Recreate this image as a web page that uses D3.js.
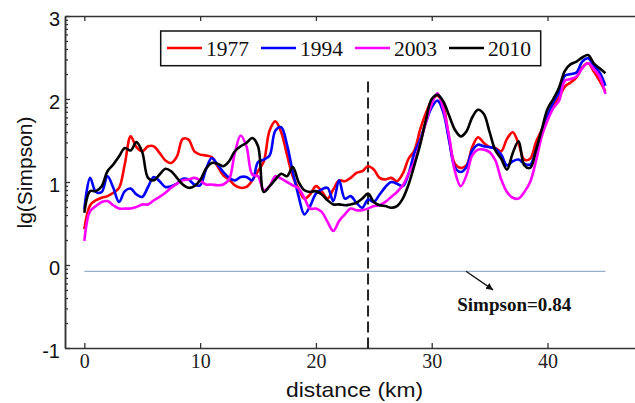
<!DOCTYPE html>
<html>
<head>
<meta charset="utf-8">
<script src="https://cdn.jsdelivr.net/npm/d3@7"></script>
<style>
  body { margin: 0; background: #fff; }
</style>
</head>
<body>
<div></div>
<script>
// distance along the transect (km), one sample every 0.5 km
const distance = [
  0, 0.5, 1, 1.5, 2, 2.5, 3, 3.5, 4, 4.5,
  5, 5.5, 6, 6.5, 7, 7.5, 8, 8.5, 9, 9.5,
  10, 10.5, 11, 11.5, 12, 12.5, 13, 13.5, 14, 14.5,
  15, 15.5, 16, 16.5, 17, 17.5, 18, 18.5, 19, 19.5,
  20, 20.5, 21, 21.5, 22, 22.5, 23, 23.5, 24, 24.5,
  25, 25.5, 26, 26.5, 27, 27.5, 28, 28.5, 29, 29.5,
  30, 30.5, 31, 31.5, 32, 32.5, 33, 33.5, 34, 34.5,
  35, 35.5, 36, 36.5, 37, 37.5, 38, 38.5, 39, 39.5,
  40, 40.5, 41, 41.5, 42, 42.5, 43, 43.5, 44, 44.5,
  45];

// lg(Simpson) per year
const v1977 = [
  0.43, 0.72, 0.78, 0.81, 0.83, 0.87, 0.93, 1.22, 1.55, 1.42,
  1.37, 1.43, 1.43, 1.35, 1.26, 1.23, 1.31, 1.52, 1.51, 1.37,
  1.33, 1.32, 1.30, 1.19, 1.08, 1.03, 0.96, 0.93, 0.94, 1.02,
  1.13, 1.25, 1.62, 1.73, 1.60, 1.33, 1.07, 0.92, 0.80, 0.85,
  0.95, 0.89, 0.80, 0.91, 1.02, 1.01, 1.05, 1.11, 1.13, 1.19,
  1.15, 1.05, 1.03, 1.05, 1.01, 1.10, 1.28, 1.38, 1.63, 1.83,
  1.98, 2.04, 1.92, 1.52, 1.22, 1.17, 1.20, 1.42, 1.54, 1.47,
  1.42, 1.41, 1.37, 1.52, 1.60, 1.46, 1.27, 1.28, 1.48, 1.63,
  1.80, 1.93, 2.02, 2.15, 2.20, 2.26, 2.38, 2.43, 2.33, 2.22,
  2.09];
const v1994 = [
  0.67, 1.05, 0.88, 0.88, 1.07, 0.93, 0.76, 0.89, 0.92, 0.85,
  0.82, 0.94, 1.06, 1.01, 0.94, 0.95, 0.98, 1.04, 1.03, 0.97,
  0.96, 1.15, 1.29, 1.21, 1.12, 1.05, 1.02, 1.06, 1.06, 1.02,
  1.24, 1.27, 1.32, 1.62, 1.66, 1.45, 1.12, 0.83, 0.61, 0.71,
  0.86, 0.91, 0.93, 0.77, 1.02, 0.80, 0.83, 0.75, 0.69, 0.79,
  0.76, 0.85, 0.94, 1.00, 0.98, 0.95, 1.10, 1.35, 1.51, 1.72,
  1.90, 1.98, 1.84, 1.50, 1.18, 1.12, 1.18, 1.38, 1.45, 1.43,
  1.42, 1.40, 1.33, 1.20, 1.25, 1.27, 1.22, 1.21, 1.38, 1.60,
  1.80, 1.96, 2.08, 2.28, 2.30, 2.32, 2.45, 2.49, 2.40, 2.32,
  2.16];
const v2003 = [
  0.29, 0.65, 0.71, 0.76, 0.77, 0.72, 0.68, 0.68, 0.68, 0.70,
  0.73, 0.73, 0.78, 0.82, 0.87, 0.93, 0.98, 1.02, 1.03, 1.05,
  1.02, 0.97, 0.97, 0.96, 0.97, 1.03, 1.35, 1.56, 1.43, 1.09,
  1.07, 0.90, 0.95, 1.07, 1.04, 1.00, 0.96, 0.92, 0.81, 0.68,
  0.68, 0.64, 0.52, 0.41, 0.53, 0.61, 0.68, 0.66, 0.66, 0.68,
  0.71, 0.72, 0.76, 0.82, 0.88, 0.96, 1.10, 1.24, 1.47, 1.72,
  1.94, 2.07, 1.88, 1.55, 1.13, 0.95, 1.08, 1.32, 1.39, 1.39,
  1.36, 1.26, 1.03, 0.88, 0.81, 0.80, 0.88, 1.00, 1.25, 1.55,
  1.74, 1.89, 1.98, 2.22, 2.24, 2.27, 2.37, 2.43, 2.36, 2.27,
  2.06];
const v2010 = [
  0.63, 0.89, 0.89, 0.95, 1.13, 1.21, 1.31, 1.41, 1.38, 1.48,
  1.36, 1.05, 1.02, 1.09, 1.16, 1.13, 1.05, 0.97, 0.93, 0.95,
  1.02, 1.16, 1.23, 1.22, 1.19, 1.25, 1.37, 1.43, 1.47, 1.53,
  1.43, 0.88, 0.95, 1.03, 1.10, 1.07, 1.18, 1.00, 0.90, 0.88,
  0.89, 0.85, 0.78, 0.73, 0.73, 0.72, 0.73, 0.75, 0.80, 0.86,
  0.76, 0.72, 0.71, 0.69, 0.71, 0.80, 0.97, 1.20, 1.45, 1.75,
  2.00, 2.05, 1.97, 1.80, 1.63, 1.55, 1.61, 1.78, 1.87, 1.82,
  1.60, 1.38, 1.28, 1.15, 1.35, 1.49, 1.20, 1.17, 1.38, 1.63,
  1.88, 2.00, 2.14, 2.34, 2.42, 2.45, 2.50, 2.53, 2.43, 2.37,
  2.31];

const years = ["1977", "1994", "2003", "2010"];
const seriesValues = [v1977, v1994, v2003, v2010];
const colors = ["#ff0000", "#0000ff", "#ff00ff", "#000000"];

const xTicks = [0, 10, 20, 30, 40];
const yTicks = [-1, 0, 1, 2, 3];
const simpsonRef = 0.84;   // reference Simpson index
const boundaryKm = 24.5;   // dashed divider

const width = 635, height = 403;
const axisColor = "#333";

const svg = d3.select("body div")
  .append("svg")
  .attr("width", width)
  .attr("height", height)
  .style("background", "#fff");

// scales (plot box runs past the right edge of the picture)
const x = d3.scaleLinear().domain([-1.67, 53.6]).range([65, 705]);
const y = d3.scaleLinear().domain([-1, 3]).range([348, 16]);

// log-style minor ticks on the lg axis
const minorY = [];
yTicks.slice(0, -1).forEach(function (n) {
  for (let k = 2; k <= 9; k++) minorY.push(n + Math.log10(k));
});

function styleAxis(g) {
  g.select(".domain").attr("stroke", axisColor).attr("stroke-width", 1.5);
  g.selectAll(".tick line").attr("stroke", axisColor).attr("stroke-width", 1.3);
}

// top frame line with inward ticks
svg.append("g")
  .attr("transform", `translate(0,${y(3)})`)
  .call(d3.axisTop(x).tickValues(xTicks).tickSize(-5).tickSizeOuter(0).tickFormat(""))
  .call(styleAxis);

// bottom axis
const xAxis = svg.append("g")
  .attr("transform", `translate(0,${y(-1)})`)
  .call(d3.axisBottom(x).tickValues(xTicks).tickSize(-5).tickSizeOuter(0).tickPadding(6))
  .call(styleAxis);
xAxis.selectAll(".tick text")
  .attr("fill", "#222")
  .style("font-family", "'Liberation Serif', 'Times New Roman', serif")
  .style("font-size", "20px");

// left axis, minor ticks first
svg.append("g")
  .attr("transform", `translate(${x.range()[0]},0)`)
  .call(d3.axisLeft(y).tickValues(minorY).tickSize(-3).tickSizeOuter(0).tickFormat(""))
  .call(styleAxis);
const yAxis = svg.append("g")
  .attr("transform", `translate(${x.range()[0]},0)`)
  .call(d3.axisLeft(y).tickValues(yTicks).tickSize(-5).tickSizeOuter(0).tickPadding(5)
    .tickFormat(function (d) { return String(d); }))
  .call(styleAxis);
yAxis.selectAll(".tick text")
  .attr("fill", "#111")
  .attr("dy", "0.48em")
  .style("font-family", "'Liberation Sans', Arial, sans-serif")
  .style("font-size", "20px");

// axis titles
svg.append("text")
  .attr("x", 354.6)
  .attr("y", 396.7)
  .attr("text-anchor", "middle")
  .attr("textLength", 137)
  .attr("lengthAdjust", "spacingAndGlyphs")
  .style("font-family", "'Liberation Sans', Arial, sans-serif")
  .style("font-size", "21px")
  .attr("fill", "#111")
  .text("distance (km)");

svg.append("text")
  .attr("transform", "translate(32,172.5) rotate(-90)")
  .attr("text-anchor", "middle")
  .style("font-family", "'Liberation Sans', Arial, sans-serif")
  .style("font-size", "21px")
  .attr("fill", "#111")
  .text("lg(Simpson)");

// reference line lg(0.84)
svg.append("line")
  .attr("x1", x(distance[0]))
  .attr("x2", x(distance[distance.length - 1]))
  .attr("y1", y(Math.log10(simpsonRef)))
  .attr("y2", y(Math.log10(simpsonRef)))
  .attr("stroke", "#98b0cc")
  .attr("stroke-width", 1.3);

// dashed divider
svg.append("line")
  .attr("x1", x(boundaryKm))
  .attr("x2", x(boundaryKm))
  .attr("y1", y(2.21))
  .attr("y2", y(-1))
  .attr("stroke", "#222")
  .attr("stroke-width", 2)
  .attr("stroke-dasharray", "11,5");

// the four curves
const line = d3.line()
  .x(function (d) { return x(d[0]); })
  .y(function (d) { return y(d[1]); })
  .curve(d3.curveCatmullRom.alpha(0.5));

seriesValues.forEach(function (vals, i) {
  svg.append("path")
    .datum(distance.map(function (km, j) { return [km, vals[j]]; }))
    .attr("fill", "none")
    .attr("stroke", colors[i])
    .attr("stroke-width", 2.6)
    .attr("stroke-linejoin", "round")
    .attr("d", line);
});

// annotation arrow + label
svg.append("defs").append("marker")
  .attr("id", "arrow")
  .attr("markerUnits", "userSpaceOnUse")
  .attr("markerWidth", 8)
  .attr("markerHeight", 8)
  .attr("refX", 7)
  .attr("refY", 3.5)
  .attr("orient", "auto")
  .append("path")
  .attr("d", "M0,0 L7,3.5 L0,7 z")
  .attr("fill", "#111");

svg.append("line")
  .attr("x1", x(32.96))
  .attr("y1", y(Math.log10(simpsonRef)))
  .attr("x2", x(35.3))
  .attr("y2", y(-0.30))
  .attr("stroke", "#111")
  .attr("stroke-width", 1.3)
  .attr("marker-end", "url(#arrow)");

svg.append("text")
  .attr("x", x(32.2))
  .attr("y", y(-0.554))
  .attr("textLength", 114)
  .attr("lengthAdjust", "spacingAndGlyphs")
  .style("font-family", "'Liberation Serif', 'Times New Roman', serif")
  .style("font-size", "18px")
  .style("font-weight", "bold")
  .attr("fill", "#111")
  .text("Simpson=" + simpsonRef);

// legend
const legend = svg.append("g");
legend.append("rect")
  .attr("x", 160.7).attr("y", 31)
  .attr("width", 380).attr("height", 34.7)
  .attr("fill", "#fff")
  .attr("stroke", "#111")
  .attr("stroke-width", 1.5);

years.forEach(function (yr, i) {
  const lx = 167 + i * 94;
  legend.append("line")
    .attr("x1", lx).attr("x2", lx + 35)
    .attr("y1", 48).attr("y2", 48)
    .attr("stroke", colors[i])
    .attr("stroke-width", 2.6);
  legend.append("text")
    .attr("x", lx + 39)
    .attr("y", 55.5)
    .attr("textLength", 43)
    .attr("lengthAdjust", "spacingAndGlyphs")
    .style("font-family", "'Liberation Serif', 'Times New Roman', serif")
    .style("font-size", "21px")
    .attr("fill", "#111")
    .text(yr);
});
</script>
</body>
</html>
